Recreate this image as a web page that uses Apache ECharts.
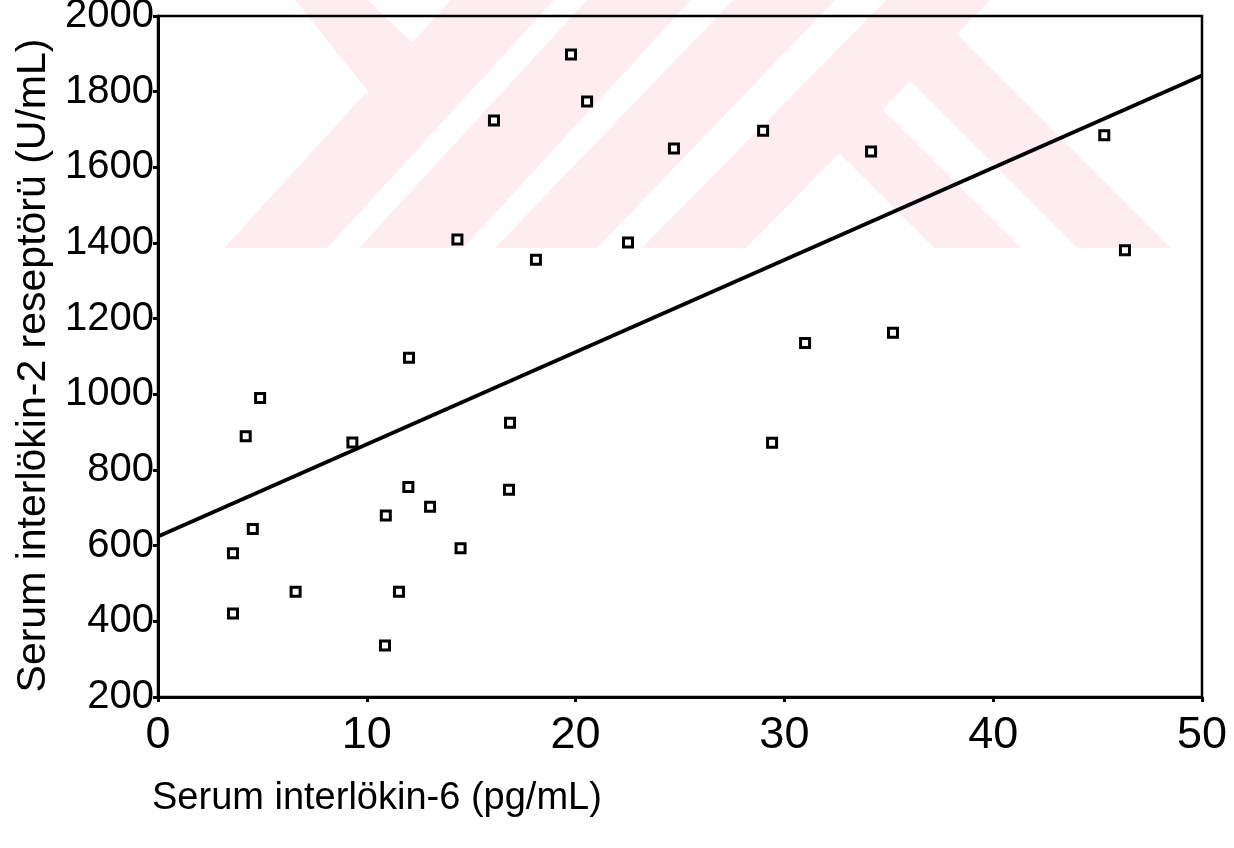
<!DOCTYPE html>
<html>
<head>
<meta charset="utf-8">
<script src="https://cdn.jsdelivr.net/npm/echarts/dist/echarts.min.js"></script>
<style>
html,body{margin:0;padding:0;background:#fff}
#chart{width:1234px;height:848px}
</style>
</head>
<body>
<div id="chart"></div>
<script>
// Serum IL-6 (pg/mL) values of the points
const il6 = [3.59, 3.59, 4.20, 4.54, 4.89, 6.59, 9.31, 10.87, 10.91, 11.54,
             11.99, 12.02, 13.03, 14.34, 14.49, 16.09, 16.86, 16.81, 18.10, 19.78,
             20.55, 22.51, 24.71, 28.98, 29.41, 30.99, 34.15, 35.20, 45.32, 46.31];
// Serum IL-2 receptor (U/mL) values of the points
const il2r = [580, 421, 889, 644, 990, 478, 873, 336, 680, 478,
              755, 1097, 703, 1409, 593, 1724, 925, 748, 1356, 1898,
              1774, 1401, 1650, 1697, 872, 1136, 1642, 1163, 1685, 1381];
// regression line end points
const fitX = [0, 50];
const fitY = [624, 1843];
// axis ticks
const xTicks = [0, 10, 20, 30, 40, 50];
const yTicks = [200, 400, 600, 800, 1000, 1200, 1400, 1600, 1800, 2000];

const FONT = "'Liberation Sans', Arial, sans-serif";
const pink = '#fdedf1';

const scatterData = il6.map((x, i) => [x, il2r[i]]);
const fitData = fitX.map((x, i) => [x, fitY[i]]);

function band(points) {
  return { type: 'polygon', z: -10, silent: true, shape: { points: points }, style: { fill: pink } };
}

const chart = echarts.init(document.getElementById('chart'), null, { renderer: 'canvas' });
chart.setOption({
  backgroundColor: '#fff',
  animation: false,
  graphic: [
    band([[224,248],[327,248],[554,0],[451,0]]),
    band([[359,248],[463,248],[691,0],[587,0]]),
    band([[495,248],[597,248],[835,0],[733,0]]),
    band([[642,248],[746,248],[990,0],[886,0]]),
    band([[934,248],[1021,248],[857,84],[814,128]]),
    band([[1077,248],[1171,248],[932,9],[885,56]]),
    band([[295,0],[368,0],[440,70],[375,100]])
  ],
  grid: {
    left: 158, right: 32, top: 16, bottom: 151,
    outerBoundsMode: 'none',
    containLabel: false,
    show: true, borderColor: '#000', borderWidth: 2.5, backgroundColor: 'transparent'
  },
  xAxis: {
    type: 'value', min: xTicks[0], max: xTicks[xTicks.length - 1], interval: 10,
    name: 'Serum interlökin-6 (pg/mL)',
    nameLocation: 'start',
    nameGap: 6,
    nameTextStyle: { fontFamily: FONT, fontSize: 38, color: '#000', align: 'left', verticalAlign: 'top', padding: [83, 0, 0, 0] },
    axisLine: { show: true, onZero: false, lineStyle: { color: '#000', width: 3 } },
    axisTick: { show: true, length: 5, lineStyle: { color: '#000', width: 3 } },
    axisLabel: { fontFamily: FONT, fontSize: 45, color: '#000', margin: 16, formatter: v => String(v) },
    splitLine: { show: false }
  },
  yAxis: {
    type: 'value', min: yTicks[0], max: yTicks[yTicks.length - 1], interval: 200,
    name: 'Serum interlökin-2 reseptörü (U/mL)',
    nameLocation: 'middle',
    nameGap: 104,
    nameRotate: 90,
    nameTextStyle: { fontFamily: FONT, fontSize: 41, color: '#000', padding: [0, 18, 0, 0] },
    axisLine: { show: true, onZero: false, lineStyle: { color: '#000', width: 3 } },
    axisTick: { show: true, length: 5, lineStyle: { color: '#000', width: 3 } },
    axisLabel: { fontFamily: FONT, fontSize: 40, color: '#000', margin: 4, formatter: v => String(v) },
    splitLine: { show: false }
  },
  series: [
    {
      type: 'line',
      data: fitData,
      symbol: 'none',
      lineStyle: { color: '#000', width: 3.8 },
      z: 3
    },
    {
      type: 'scatter',
      data: scatterData,
      symbol: 'rect',
      symbolSize: 9,
      itemStyle: { color: '#fff', borderColor: '#000', borderWidth: 3, opacity: 1 },
      z: 4
    }
  ]
});
</script>
</body>
</html>
